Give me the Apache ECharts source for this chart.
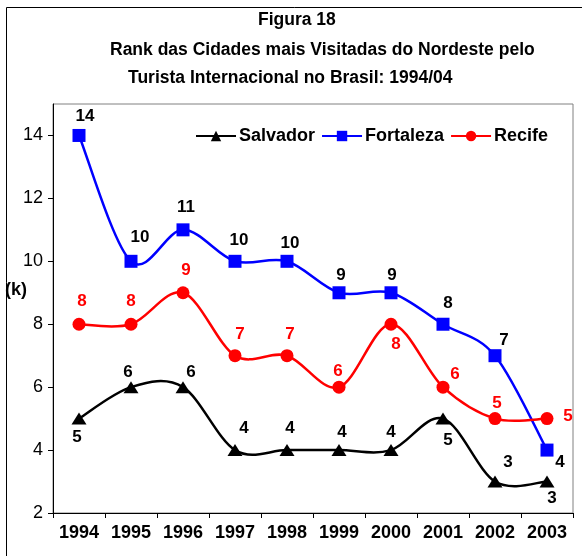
<!DOCTYPE html>
<html>
<head>
<meta charset="utf-8">
<script src="https://cdn.jsdelivr.net/npm/echarts@6/dist/echarts.min.js"></script>
<style>
  html, body { margin: 0; padding: 0; background: #fff; }
  #chart { width: 582px; height: 556px; }
</style>
</head>
<body>
<div id="chart"></div>
<script>
// dados
const years = ["1994", "1995", "1996", "1997", "1998", "1999", "2000", "2001", "2002", "2003"];
const salvador = [5, 6, 6, 4, 4, 4, 4, 5, 3, 3];
const fortaleza = [14, 10, 11, 10, 10, 9, 9, 8, 7, 4];
const recife = [8, 8, 9, 7, 7, 6, 8, 6, 5, 5];
const yTicks = [2, 4, 6, 8, 10, 12, 14];

// where each value label sits relative to its marker (px)
const salvadorLabelOffsets = [[-2, 19], [-3, -15], [8, -15], [9, -22], [3, -22], [3, -18], [0, -18], [5, 22], [13, -19], [5, 17]];
const fortalezaLabelOffsets = [[6, -19], [9, -24], [3, -23], [4, -21], [3, -18], [2, -17], [1, -17], [5, -21], [9, -15], [13, 12]];
const recifeLabelOffsets = [[3, -23], [0, -23], [3, -22], [5, -21], [3, -21], [-1, -16], [5, 20], [12, -13], [2, -15], [21, -2]];

const FONT = "Liberation Sans, Arial, sans-serif";
const LINE_W = 2.5;

const withLabels = (values, offsets, color) =>
  values.map((v, i) => ({
    value: v,
    label: { offset: offsets[i], color: color }
  }));

// excel style smoothing (catmull-rom, goes a bit past the points)
const smoothCurve = (name, values, color) => ({
  name: name + "-curve",
  type: "custom",
  z: 1,
  silent: true,
  data: [[0, values[0]]],
  renderItem: (params, api) => {
    const pts = values.map((v, i) => api.coord([i, v]));
    let d = "M" + pts[0][0] + " " + pts[0][1];
    for (let i = 0; i < pts.length - 1; i++) {
      const p0 = pts[i - 1] || pts[i];
      const p1 = pts[i];
      const p2 = pts[i + 1];
      const p3 = pts[i + 2] || pts[i + 1];
      const c1x = p1[0] + (p2[0] - p0[0]) / 6;
      const c1y = p1[1] + (p2[1] - p0[1]) / 6;
      const c2x = p2[0] - (p3[0] - p1[0]) / 6;
      const c2y = p2[1] - (p3[1] - p1[1]) / 6;
      d += " C" + c1x + " " + c1y + " " + c2x + " " + c2y + " " + p2[0] + " " + p2[1];
    }
    return {
      type: "path",
      shape: { pathData: d },
      style: { fill: "none", stroke: color, lineWidth: LINE_W, lineJoin: "round" }
    };
  }
});

const makeSeries = (name, values, offsets, color, symbol, size, labelColor) => ({
  name: name,
  type: "line",
  z: 3,
  symbol: symbol,
  symbolSize: size,
  lineStyle: { color: color, width: LINE_W, opacity: 0 },
  itemStyle: { color: color },
  label: {
    show: true,
    position: "inside",
    fontFamily: FONT,
    fontWeight: "bold",
    fontSize: 17,
    color: labelColor
  },
  data: withLabels(values, offsets, labelColor)
});

const chart = echarts.init(document.getElementById("chart"));

chart.setOption({
  animation: false,
  backgroundColor: "#fff",
  textStyle: { fontFamily: FONT },
  graphic: [
    {
      type: "rect",
      shape: { x: 6.5, y: 7.5, width: 600, height: 600 },
      style: { fill: null, stroke: "#000", lineWidth: 1 },
      silent: true
    },
    {
      type: "text", left: 258, top: 11,
      style: { text: "Figura 18", font: "bold 17.5px " + FONT, fill: "#000" }
    },
    {
      type: "text", left: 110, top: 41,
      style: { text: "Rank das Cidades mais Visitadas do Nordeste pelo", font: "bold 17.5px " + FONT, fill: "#000" }
    },
    {
      type: "text", left: 128, top: 69,
      style: { text: "Turista Internacional no Brasil: 1994/04", font: "bold 17.5px " + FONT, fill: "#000" }
    },
    {
      type: "text", left: 5, top: 281,
      style: { text: "(k)", font: "bold 18px " + FONT, fill: "#000" }
    }
  ],
  legend: {
    left: 190,
    top: 122,
    itemWidth: 40,
    itemHeight: 13,
    itemGap: 6,
    textStyle: { fontFamily: FONT, fontWeight: "bold", fontSize: 18, color: "#000", padding: [0, 0, 0, -2] },
    data: [
      { name: "Salvador", lineStyle: { opacity: 1 } },
      { name: "Fortaleza", lineStyle: { opacity: 1 } },
      { name: "Recife", lineStyle: { opacity: 1 } }
    ]
  },
  grid: {
    left: 53,
    right: 9,
    top: 104,
    bottom: 43,
    show: true,
    borderColor: "#808080",
    borderWidth: 1
  },
  xAxis: {
    type: "category",
    data: years,
    boundaryGap: true,
    axisLine: { lineStyle: { color: "#000", width: 1 } },
    axisTick: { show: true, length: 5, lineStyle: { color: "#000" } },
    axisLabel: { interval: 0, fontFamily: FONT, fontWeight: "bold", fontSize: 18, color: "#000", margin: 11 }
  },
  yAxis: {
    type: "value",
    min: yTicks[0],
    max: 15,
    interval: yTicks[1] - yTicks[0],
    splitLine: { show: false },
    axisLine: { show: true, lineStyle: { color: "#000", width: 1 } },
    axisTick: { show: true, length: 5, lineStyle: { color: "#000" } },
    axisLabel: {
      fontFamily: FONT,
      fontSize: 18,
      color: "#000",
      margin: 10,
      showMaxLabel: false,
      formatter: (v) => (yTicks.indexOf(v) >= 0 ? String(v) : "")
    }
  },
  series: [
    smoothCurve("Salvador", salvador, "#000"),
    smoothCurve("Fortaleza", fortaleza, "#0000ff"),
    smoothCurve("Recife", recife, "#ff0000"),
    makeSeries("Salvador", salvador, salvadorLabelOffsets, "#000", "triangle", [15, 12], "#000"),
    makeSeries("Fortaleza", fortaleza, fortalezaLabelOffsets, "#0000ff", "rect", 13, "#000"),
    makeSeries("Recife", recife, recifeLabelOffsets, "#ff0000", "circle", 13, "#ff0000")
  ]
});
</script>
</body>
</html>
